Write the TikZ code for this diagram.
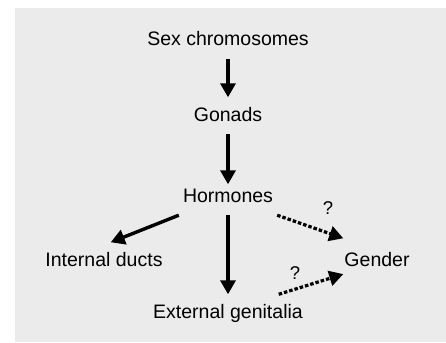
\documentclass[tikz,border=0pt]{standalone}
\usepackage{fontspec}
\setmainfont{Liberation Sans}
\usetikzlibrary{arrows.meta}
\definecolor{bggrey}{HTML}{EBEBEB}
\tikzset{
  lbl/.style={font=\fontsize{19.5}{22}\selectfont, text height=14.5pt, text depth=4pt,
              inner xsep=4pt, inner ysep=9pt, anchor=base},
  qlbl/.style={font=\fontsize{18.5}{21}\selectfont, inner sep=0pt},
  solidarrow/.style={line width=3.4pt, -{Triangle[length=14pt,width=15pt]}},
  dotarrow/.style={line width=3.2pt, dash pattern=on 3.5pt off 2pt,
                   -{Triangle[length=14pt,width=15pt]}}
}
\begin{document}
\begin{tikzpicture}[x=1pt,y=-1pt]
\useasboundingbox (0,0) rectangle (446,342);
\fill[bggrey] (15,8) rectangle (446,342);
\node[lbl] (sex) at (228,45.5) {Sex chromosomes};
\node[lbl] (gon) at (228,121) {Gonads};
\node[lbl] (hor) at (228,202) {Hormones};
\node[lbl] (int) at (104,266) {Internal ducts};
\node[lbl] (gen) at (377,266) {Gender};
\node[lbl] (ext) at (228,318) {External genitalia};
\node[qlbl] (q1) at (328,208) {?};
\node[qlbl] (q2) at (295,273) {?};
\draw[solidarrow] (sex.south) -- (gon.north);
\draw[solidarrow, shorten >=-6pt] (gon.south) -- (hor.north);
\draw[solidarrow] (hor.south west) -- (int.70);
\draw[solidarrow] (hor.south) -- (ext.north);
\draw[dotarrow] (hor.south east) -- ([shift={(3,-4)}]gen.north west);
\draw[dotarrow] (ext.20) -- ([shift={(3,0)}]gen.200);
\end{tikzpicture}
\end{document}
